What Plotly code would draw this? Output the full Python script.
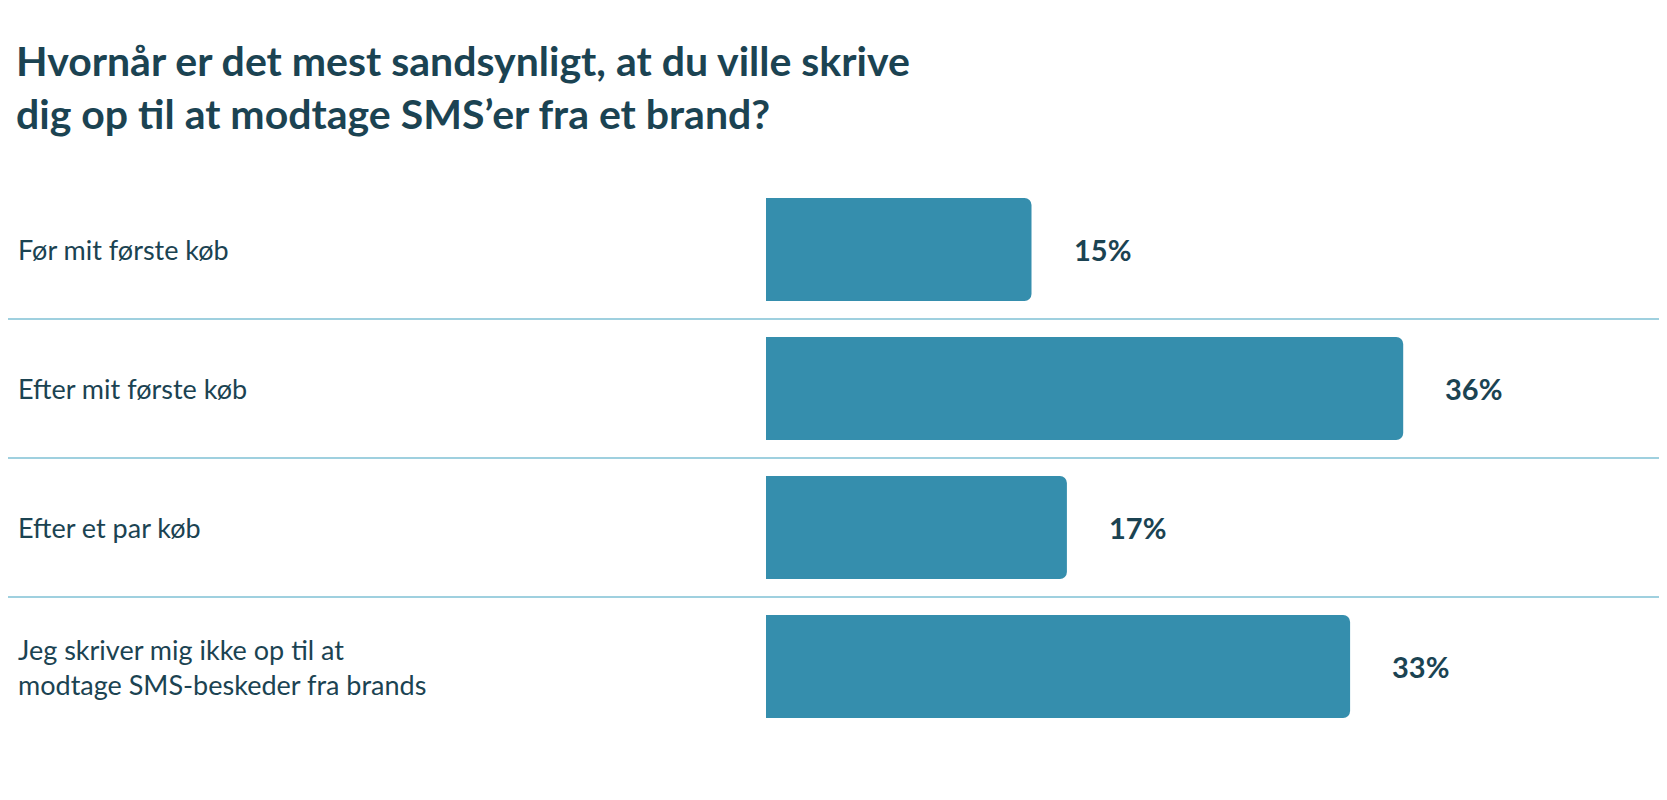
import plotly.graph_objects as go

categories = ["Før mit første køb", "Efter mit første køb", "Efter et par køb",
              "Jeg skriver mig ikke op til at<br>modtage SMS-beskeder fra brands"]
values = [15, 36, 17, 33]
labels = ["15%", "36%", "17%", "33%"]

dark = "#1b4352"
fig = go.Figure(go.Bar(
    x=values, y=list(range(len(values))), orientation="h", width=0.74,
    marker=dict(color="#358ead", cornerradius=7, line=dict(width=0)),
    hoverinfo="skip",
))

for i, (cat, v, lab) in enumerate(zip(categories, values, labels)):
    fig.add_annotation(x=0, y=i, xref="x", yref="y", text=cat, showarrow=False,
                       xanchor="left", align="left", xshift=-750,
                       font=dict(size=27, color=dark, family="Lato"))
    fig.add_annotation(x=v, y=i, xref="x", yref="y", text=f"<b>{lab}</b>", showarrow=False,
                       xanchor="left", xshift=40, font=dict(size=29, color=dark, family="Lato"))
for i in range(len(values) - 1):
    fig.add_shape(type="line", xref="paper", yref="y", x0=-1, x1=1.1, y0=i + 0.5, y1=i + 0.5,
                  line=dict(color="#9fd0df", width=2))

fig.add_annotation(
    text="<b>Hvornår er det mest sandsynligt, at du ville skrive<br>dig op til at modtage SMS’er fra et brand?</b>",
    xref="paper", yref="paper", x=0, y=1 + 146 / 556, xanchor="left", yanchor="top",
    xshift=-752, align="left", showarrow=False,
    font=dict(size=41, color=dark, family="Lato"))

fig.update_layout(
    width=1667, height=800, plot_bgcolor="white", paper_bgcolor="white",
    margin=dict(l=758, r=24, t=172, b=72), showlegend=False,
    xaxis=dict(range=[0, 50], visible=False),
    yaxis=dict(range=[3.5, -0.5], visible=False),
)
fig.write_html("out.html")
